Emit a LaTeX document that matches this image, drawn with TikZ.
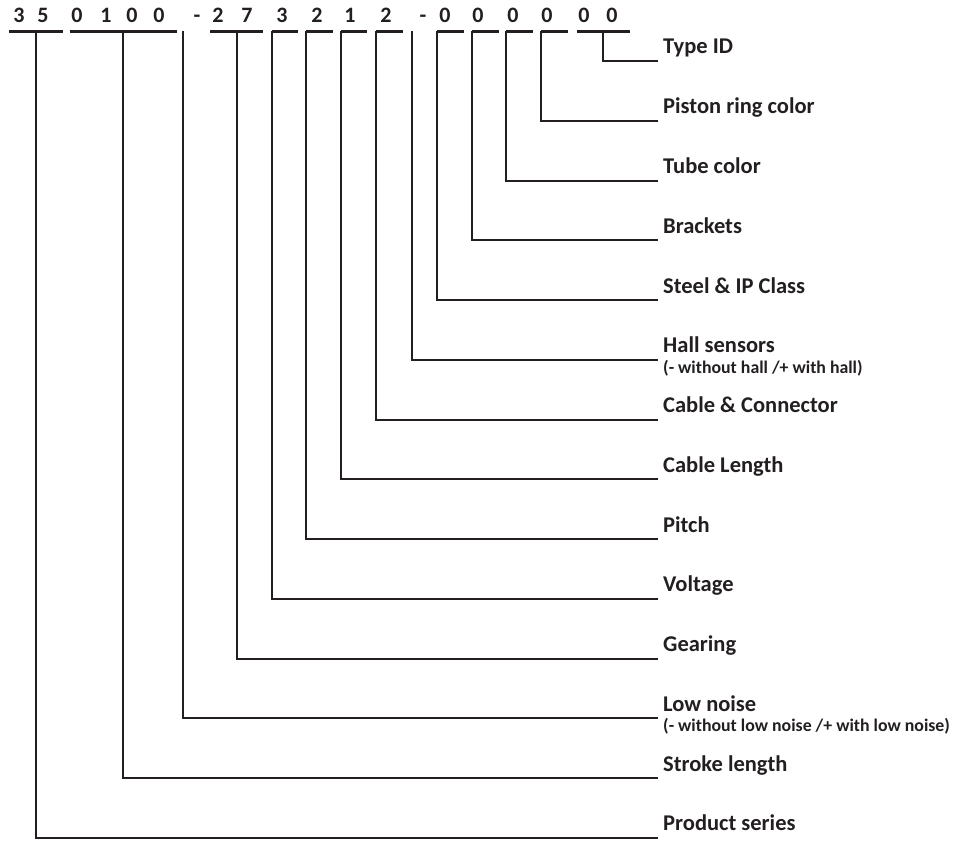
\documentclass[tikz,border=0pt]{standalone}
\usepackage{fontspec}
\setmainfont{Carlito}
\definecolor{ink}{HTML}{231F20}
\begin{document}
\begin{tikzpicture}[x=1pt,y=-1pt,
  lbl/.style={anchor=base west, inner sep=0pt, font=\fontsize{22.5}{26}\selectfont\bfseries, text=ink},
  sub/.style={anchor=base west, inner sep=0pt, font=\fontsize{17.8}{20}\selectfont\bfseries, text=ink},
  dig/.style={anchor=base, inner sep=0pt, font=\fontsize{22}{26}\selectfont\bfseries, text=ink},
  bar/.style={line width=3pt, draw=ink},
  conn/.style={line width=2pt, draw=ink, line join=miter}]
\useasboundingbox (0,0) rectangle (957,840);
% digits
\foreach \ch/\x [count=\n] in {3/19,5/43,0/77,1/106,0/132,0/159,-/197,2/218,7/247,3/282,2/317,1/350,2/386,-/423,0/445,0/478,0/513,0/547,0/584,0/612}
  \node[dig] (d\n) at (\x,23) {\ch};
% bars under digit groups
\foreach \a/\b in {9/63,70/177,210/263,272/298,306/333,341/367,376/403,437/464,472/499,506/533,541/568,577/630}
  \draw[bar] (\a,31.5) -- (\b,31.5);
% labels and connectors
\foreach \k/\x/\t in {0/603/Type ID,1/541/Piston ring color,2/506/Tube color,3/472/Brackets,4/437/Steel \& IP Class,5/412/Hall sensors,6/376/Cable \& Connector,7/341/Cable Length,8/306/Pitch,9/272/Voltage,10/237/Gearing,11/183/Low noise,12/123/Stroke length,13/36/Product series}{
  \pgfmathsetmacro{\yy}{61+\k*59.75}
  \node[lbl] (l\k) at (663,\yy-7) {\t};
  \coordinate (t\k) at (\x,31);
  \draw[conn] (t\k) |- ([shift={(-5,7)}]l\k.base west);
}
\node[sub] (s5) at (663,61+5*59.75+13.5) {(- without hall /+ with hall)};
\node[sub] (s11) at (663,61+11*59.75+13.5) {(- without low noise /+ with low noise)};
\end{tikzpicture}
\end{document}
